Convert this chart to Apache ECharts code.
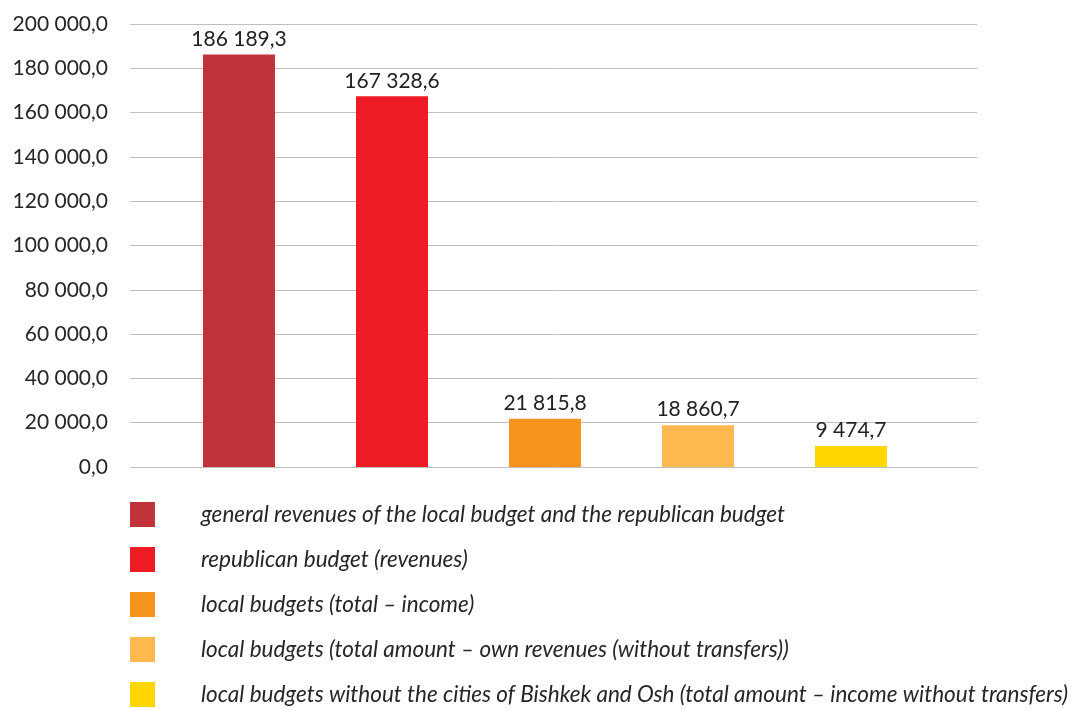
<!DOCTYPE html>
<html>
<head>
<meta charset="utf-8">
<script src="https://cdn.jsdelivr.net/npm/echarts@6/dist/echarts.min.js"></script>
<style>
  html, body { margin: 0; padding: 0; background: #fff; }
  #chart { width: 1081px; height: 710px; }
</style>
</head>
<body>
<div id="chart"></div>
<script>
// Budget revenue items (one bar each)
const seriesNames = [
  'general revenues of the local budget and the republican budget',
  'republican budget (revenues)',
  'local budgets (total \u2013 income)',
  'local budgets (total amount \u2013 own revenues (without transfers))',
  'local budgets without the cities of Bishkek and Osh (total amount \u2013 income without transfers)'
];
const seriesValues = [186189.3, 167328.6, 21815.8, 18860.7, 9474.7];
const seriesColors = ['#BF3339', '#ED1C24', '#F7941D', '#FDB94E', '#FFD600'];
const slots = ['1', '2', '3', '4', '5'];

const FONT = 'Lato';

// 186189.3 -> "186 189,3"
function fmt(v) {
  const parts = Number(v).toFixed(1).split('.');
  const intPart = parts[0].replace(/\B(?=(\d{3})+(?!\d))/g, ' ');
  return intPart + ',' + parts[1];
}

const chart = echarts.init(document.getElementById('chart'), null, { renderer: 'canvas' });

const series = seriesNames.map((name, i) => ({
  name: name,
  type: 'bar',
  xAxisIndex: 1,
  yAxisIndex: 1,
  stack: 'all',
  barWidth: 72,
  itemStyle: { color: seriesColors[i] },
  label: {
    show: true,
    position: 'top',
    distance: 5,
    color: '#222',
    fontFamily: FONT,
    fontSize: 21,
    formatter: p => fmt(p.value)
  },
  data: slots.map((s, j) => (j === i ? seriesValues[i] : '-'))
}));

chart.setOption({
  animation: false,
  grid: [
    { left: 130, right: 104, top: 24, bottom: 243 },
    { left: 162.5, width: 765, top: 24, bottom: 243 }
  ],
  xAxis: [
    { type: 'category', gridIndex: 0, data: [''], show: false },
    {
      type: 'category', gridIndex: 1, data: slots,
      axisLine: { show: false }, axisTick: { show: false }, axisLabel: { show: false }
    }
  ],
  yAxis: [
    {
      type: 'value', gridIndex: 0, min: 0, max: 200000, interval: 20000,
      axisLine: { show: false }, axisTick: { show: false },
      axisLabel: { margin: 22, color: '#262626', fontFamily: FONT, fontSize: 21, formatter: v => fmt(v) },
      splitLine: { lineStyle: { color: '#BFBFBF', width: 1 } }
    },
    {
      type: 'value', gridIndex: 1, min: 0, max: 200000, interval: 20000,
      show: false, splitLine: { show: false }
    }
  ],
  legend: {
    orient: 'vertical',
    left: 130,
    top: 502,
    height: 400,
    padding: 0,
    itemWidth: 25,
    itemHeight: 25,
    itemGap: 20,
    icon: 'rect',
    selectedMode: false,
    textStyle: {
      fontFamily: FONT,
      fontStyle: 'italic',
      fontSize: 22.5,
      lineHeight: 19,
      color: '#262626',
      padding: [6, 0, 0, 41]
    },
    data: seriesNames
  },
  series: series
});
</script>
</body>
</html>
